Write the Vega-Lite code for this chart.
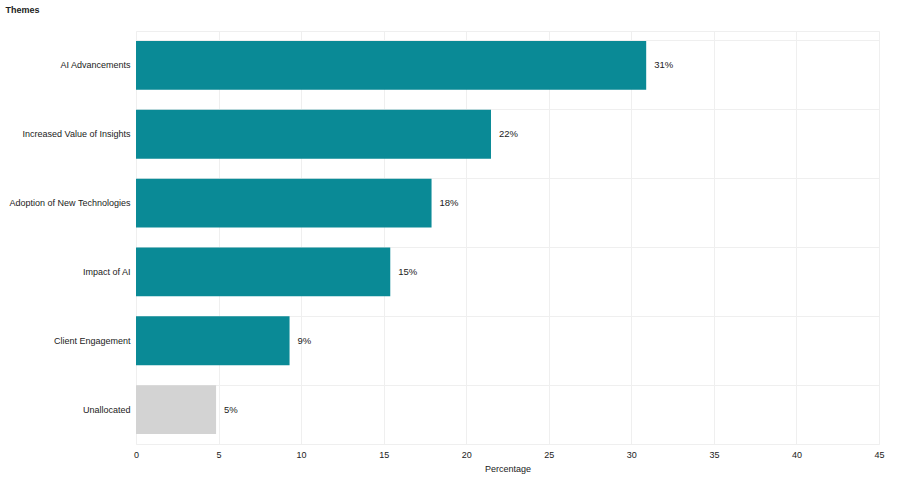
{
  "$schema": "https://vega.github.io/schema/vega-lite/v6.json",
  "width": 743,
  "height": 413,
  "autosize": {"type": "none"},
  "padding": {"left": 136, "top": 31, "right": 23, "bottom": 40},
  "background": "white",
  "config": {
    "font": "Liberation Sans",
    "view": {"stroke": "#efefef"},
    "axis": {"gridColor": "#efefef", "domain": false, "ticks": false, "labelColor": "#222", "titleColor": "#222"}
  },
  "data": {
    "values": [
      {"theme": "AI Advancements", "pct": 30.9, "label": "31%", "group": "allocated"},
      {"theme": "Increased Value of Insights", "pct": 21.5, "label": "22%", "group": "allocated"},
      {"theme": "Adoption of New Technologies", "pct": 17.9, "label": "18%", "group": "allocated"},
      {"theme": "Impact of AI", "pct": 15.4, "label": "15%", "group": "allocated"},
      {"theme": "Client Engagement", "pct": 9.3, "label": "9%", "group": "allocated"},
      {"theme": "Unallocated", "pct": 4.85, "label": "5%", "group": "unallocated"}
    ]
  },
  "encoding": {
    "y": {
      "field": "theme",
      "type": "nominal",
      "sort": null,
      "scale": {"paddingInner": 0.29, "paddingOuter": 0.145},
      "axis": {
        "title": "Themes",
        "titleAngle": 0,
        "titleAlign": "left",
        "titleBaseline": "middle",
        "titleX": -131,
        "titleY": -22,
        "titleFontSize": 9,
        "titleFontWeight": "bold",
        "labelFontSize": 9,
        "labelPadding": 6,
        "grid": true,
        "bandPosition": 0
      }
    }
  },
  "layer": [
    {
      "mark": {"type": "bar"},
      "encoding": {
        "x": {
          "field": "pct",
          "type": "quantitative",
          "scale": {"domain": [0, 45], "nice": false},
          "axis": {
            "title": "Percentage",
            "titleFontSize": 9,
            "titleFontWeight": "normal",
            "titleY": 20,
            "labelFontSize": 9,
            "labelPadding": 6,
            "labelFlush": false,
            "values": [0, 5, 10, 15, 20, 25, 30, 35, 40, 45],
            "grid": true
          }
        },
        "color": {
          "field": "group",
          "type": "nominal",
          "scale": {"domain": ["allocated", "unallocated"], "range": ["#0a8a96", "#d3d3d3"]},
          "legend": null
        }
      }
    },
    {
      "mark": {"type": "text", "align": "left", "baseline": "middle", "dx": 8, "fontSize": 9.5, "color": "#222"},
      "encoding": {
        "x": {"field": "pct", "type": "quantitative"},
        "text": {"field": "label"}
      }
    }
  ]
}
